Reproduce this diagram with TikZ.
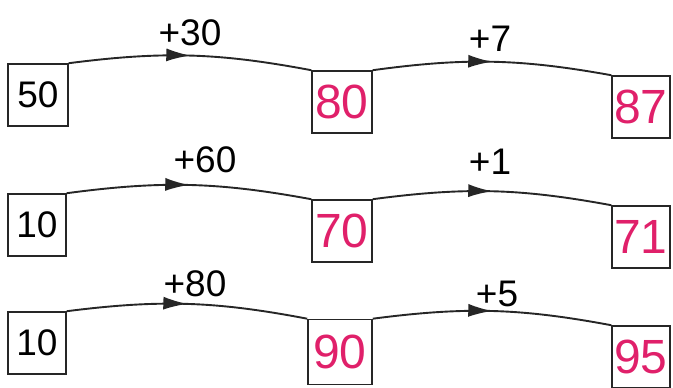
\documentclass[tikz,border=0pt]{standalone}
\usepackage{fontspec}
\setmainfont{Liberation Sans}
\usepackage{xcolor}
\usetikzlibrary{arrows.meta,decorations.markings}
\definecolor{penred}{HTML}{E0206A}

\begin{document}
\begin{tikzpicture}[
  x=1pt, y=-1pt,
  numbox/.style={draw=black!85, line width=1.6pt, minimum width=60pt,
                 minimum height=62pt, inner sep=0pt, font=\fontsize{37}{37}\selectfont},
  ansbox/.style={numbox, text=penred, font=\fontsize{48}{48}\selectfont},
  jump/.style={line width=1.9pt, black!85, bend left=9,
               postaction={decorate, decoration={markings,
                 mark=at position 0.5 with {\arrow{Latex[length=24pt,width=13pt]}}}}},
  add/.style={font=\fontsize{37}{37}\selectfont, inner sep=0pt}
]
\useasboundingbox (0,0) rectangle (673,388);
% --- row 1 ---
\node[numbox] (a1) at (38,95) {50};
\node[ansbox] (b1) at (342,102) {80};
\node[ansbox, minimum width=58pt] (c1) at (641,107) {87};
% --- row 2 ---
\node[numbox, minimum width=58pt] (a2) at (37,225) {10};
\node[ansbox] (b2) at (342,231) {70};
\node[ansbox, minimum width=58pt] (c2) at (641,237) {71};
% --- row 3 ---
\node[numbox, minimum width=58pt] (a3) at (37,343) {10};
\node[ansbox, minimum width=64pt, minimum height=65pt] (b3) at (340,352) {90};
\node[ansbox, minimum width=58pt] (c3) at (641,357) {95};
% --- steps ---
\node[add] (s1) at (190,33) {+30};
\node[add] (t1) at (490,39) {+7};
\node[add] (s2) at (205,160) {+60};
\node[add] (t2) at (490,162) {+1};
\node[add] (s3) at (195,284) {+80};
\node[add] (t3) at (497,294) {+5};
% --- arrows ---
\draw[jump] (a1.north east) to (b1.north west);
\draw[jump] (b1.north east) to (c1.north west);
\draw[jump] (a2.north east) to (b2.north west);
\draw[jump] (b2.north east) to (c2.north west);
\draw[jump] (a3.north east) to (b3.north west);
\draw[jump] (b3.north east) to (c3.north west);
\end{tikzpicture}
\end{document}
